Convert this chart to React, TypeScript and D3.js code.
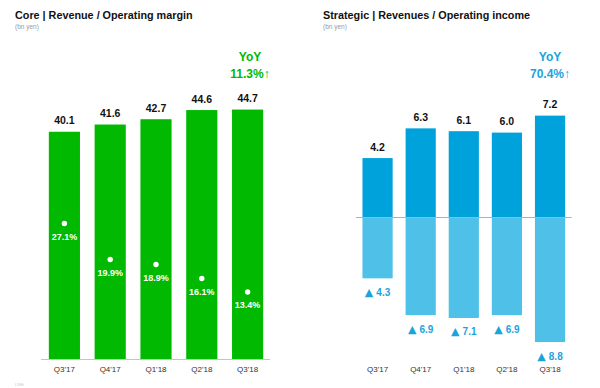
import React from "react";
import * as d3 from "d3";

const categories = ["Q3'17", "Q4'17", "Q1'18", "Q2'18", "Q3'18"];
const coreRevenue = [40.1, 41.6, 42.7, 44.6, 44.7];
const coreMargin = [27.1, 19.9, 18.9, 16.1, 13.4];
const stratRevenue = [4.2, 6.3, 6.1, 6.0, 7.2];
const stratLoss = [4.3, 6.9, 7.1, 6.9, 8.8];
const coreYoY = "11.3%↑";
const stratYoY = "70.4%↑";

const FONT = "'Liberation Sans', Arial, Helvetica, sans-serif";
const GREEN = "#00b900";
const BLUE = "#00a2dc";
const LIGHT_BLUE = "#4fc0e7";
const BLUE_TEXT = "#1ba3dc";

export default function App() {
  const W = 600;
  const H = 388;
  const base = 359;
  const top = 84;

  // Left chart scales
  const xL = d3.scaleBand<string>().domain(categories).range([41.5, 270.5]).paddingInner(0.32).paddingOuter(0.16);
  const yRev = d3.scaleLinear().domain([-7, 50]).range([base, top]);
  const yMargin = d3.scaleLinear().domain([0, 55]).range([base, top]);

  // Right chart scales
  const xR = d3.scaleBand<string>().domain(categories).range([356, 571.6]).paddingInner(0.3).paddingOuter(0.15);
  const yS = d3.scaleLinear().domain([-10, 10]).range([base, 76]);

  const fmt = d3.format(".1f");

  return (
    <svg width={W} height={H} style={{ position: "absolute", left: 0, top: 0, background: "#fff" }} fontFamily={FONT}>
      {/* Titles */}
      <text x={15} y={19} fontSize={10.8} fontWeight="bold" fill="#111">Core | Revenue / Operating margin</text>
      <text x={15} y={29} fontSize={6.5} fill="#9a9a9a">(bn yen)</text>
      <text x={323} y={19} fontSize={10.8} fontWeight="bold" fill="#111">Strategic | Revenues / Operating income</text>
      <text x={323} y={29} fontSize={6.5} fill="#9a9a9a">(bn yen)</text>

      {/* Left chart */}
      {categories.map((c, i) => (
        <g key={"L" + c}>
          <rect x={xL(c)} y={yRev(coreRevenue[i])} width={xL.bandwidth()} height={base - yRev(coreRevenue[i])} fill={GREEN} />
          <text x={xL(c)! + xL.bandwidth() / 2} y={yRev(coreRevenue[i]) - 7.5} fontSize={10.5} fontWeight="bold" fill="#111" textAnchor="middle">
            {fmt(coreRevenue[i])}
          </text>
          <circle cx={xL(c)! + xL.bandwidth() / 2} cy={yMargin(coreMargin[i])} r={2.7} fill="#fff" />
          <text x={xL(c)! + xL.bandwidth() / 2} y={yMargin(coreMargin[i]) + 16} fontSize={9} fontWeight="bold" fill="#fff" textAnchor="middle">
            {fmt(coreMargin[i]) + "%"}
          </text>
          <text x={xL(c)! + xL.bandwidth() / 2} y={372} fontSize={8} fill="#333" textAnchor="middle">{c}</text>
        </g>
      ))}
      <line x1={41} x2={270} y1={base + 0.5} y2={base + 0.5} stroke="#c4c4c4" strokeWidth={1} />
      <text x={250} y={61} fontSize={12} fontWeight="bold" fill={GREEN} textAnchor="middle">YoY</text>
      <text x={250} y={77.5} fontSize={12} fontWeight="bold" fill={GREEN} textAnchor="middle">{coreYoY}</text>

      {/* Right chart */}
      {categories.map((c, i) => {
        const cx = xR(c)! + xR.bandwidth() / 2;
        return (
          <g key={"R" + c}>
            <rect x={xR(c)} y={yS(stratRevenue[i])} width={xR.bandwidth()} height={yS(0) - yS(stratRevenue[i])} fill={BLUE} />
            <rect x={xR(c)} y={yS(0)} width={xR.bandwidth()} height={yS(-stratLoss[i]) - yS(0)} fill={LIGHT_BLUE} />
            <text x={cx} y={yS(stratRevenue[i]) - 7.5} fontSize={10.5} fontWeight="bold" fill="#111" textAnchor="middle">
              {fmt(stratRevenue[i])}
            </text>
            <text x={cx} y={yS(-stratLoss[i]) + 17.5} fontSize={10} fontWeight="bold" fill={BLUE_TEXT} textAnchor="middle">
              <tspan fontFamily="'DejaVu Sans', sans-serif" fontSize={11} fontWeight="normal">▲</tspan>
              <tspan dx={3}>{fmt(stratLoss[i])}</tspan>
            </text>
            <text x={cx} y={372} fontSize={8} fill="#333" textAnchor="middle">{c}</text>
          </g>
        );
      })}
      <line x1={356} x2={571.6} y1={yS(0)} y2={yS(0)} stroke="#b0b0b0" strokeWidth={1.2} />
      <text x={550} y={61} fontSize={12} fontWeight="bold" fill={BLUE_TEXT} textAnchor="middle">YoY</text>
      <text x={550} y={77.5} fontSize={12} fontWeight="bold" fill={BLUE_TEXT} textAnchor="middle">{stratYoY}</text>

      <text x={15} y={386} fontSize={4} fill="#c8c8c8">LINE</text>
    </svg>
  );
}
